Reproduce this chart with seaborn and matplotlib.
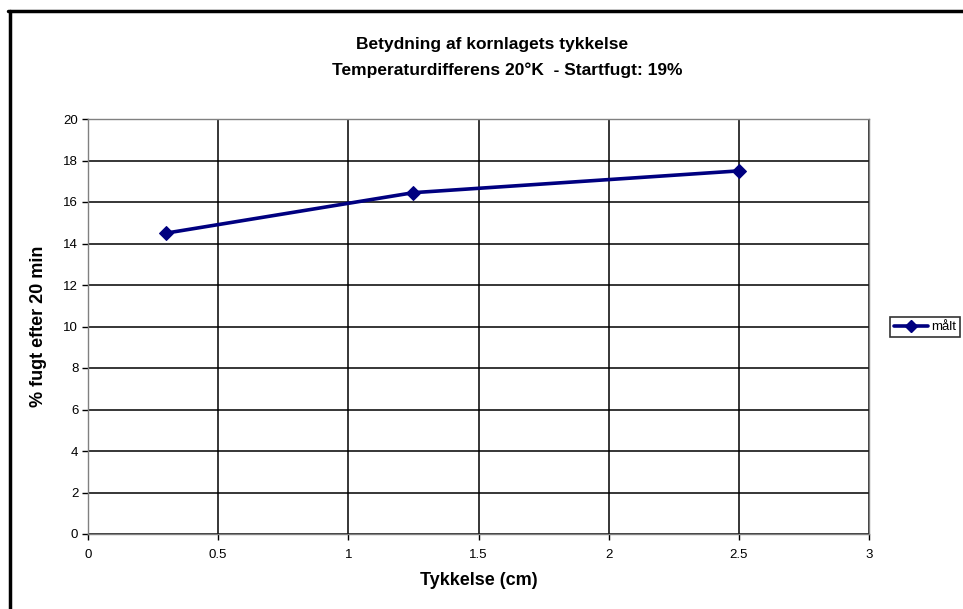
import matplotlib
matplotlib.use("Agg")
import matplotlib.pyplot as plt
import seaborn as sns
import pandas as pd
from matplotlib.lines import Line2D

thickness = [0.3, 1.25, 2.5]
moisture = [14.5, 16.45, 17.5]
series_name = "målt"
x_ticks = [0, 0.5, 1, 1.5, 2, 2.5, 3]
y_ticks = [0, 2, 4, 6, 8, 10, 12, 14, 16, 18, 20]

sns.set_style("white")
plt.rcParams['font.family'] = ['Liberation Sans', 'DejaVu Sans']
plt.rcParams['text.color'] = 'black'
plt.rcParams['axes.labelcolor'] = 'black'
plt.rcParams['xtick.color'] = 'black'
plt.rcParams['ytick.color'] = 'black'

df = pd.DataFrame({"x": thickness, "y": moisture, "s": series_name})

fig = plt.figure(figsize=(9.63, 6.09), dpi=100)
ax = fig.add_axes([88/963, 1-534/609, (869-88)/963, (534-119)/609])

sns.lineplot(data=df, x="x", y="y", ax=ax, color="#000080", linewidth=2.6,
             marker="D", markersize=7, markeredgecolor="#000080", legend=False)

ax.set_xlim(0, 3)
ax.set_ylim(0, 20)
ax.set_xticks(x_ticks)
ax.set_xticklabels([f"{t:g}" for t in x_ticks])
ax.set_yticks(y_ticks)
ax.grid(True, color="black", linewidth=1.1)
ax.set_axisbelow(True)
for s in ax.spines.values():
    s.set_color("#808080")
    s.set_linewidth(1.0)
ax.tick_params(axis='both', labelsize=9.5, length=4, width=1,
               direction='out', pad=3, left=True, bottom=True)
for t in ax.get_xticklines() + ax.get_yticklines():
    t.set_color("#808080")
ax.tick_params(axis='x', pad=7)

ax.set_xlabel("Tykkelse (cm)", fontsize=13, fontweight='bold', labelpad=8)
ax.set_ylabel("% fugt efter 20 min", fontsize=13, fontweight='bold', labelpad=10)
ax.yaxis.set_label_coords((47-88)/(869-88), 0.5)

fig.text(492/963, 1-45/609, "Betydning af kornlagets tykkelse", ha='center', va='center',
         fontsize=12.5, fontweight='bold')
fig.text(507/963, 1-70/609, "Temperaturdifferens 20°K  - Startfugt: 19%", ha='center', va='center',
         fontsize=12.5, fontweight='bold')

handle = Line2D([], [], color="#000080", linewidth=2.6, marker="D", markersize=6)
leg = fig.legend([handle], [series_name], loc='center', bbox_to_anchor=(925/963, 1-327/609),
                 frameon=True, fancybox=False, fontsize=9.5, handlelength=2.6,
                 handletextpad=0.2, borderpad=0.3, borderaxespad=0)
leg.get_frame().set_edgecolor("black")
leg.get_frame().set_linewidth(1.2)

# outer chart frame (top and left edges visible)
fig.add_artist(Line2D([9.5/963, 9.5/963], [0, 1-10.5/609], color="black", linewidth=2.5,
                      transform=fig.transFigure))
fig.add_artist(Line2D([8/963, 1], [1-10.5/609, 1-10.5/609], color="black", linewidth=2.5,
                      transform=fig.transFigure))

fig.savefig("out.png", dpi=100)
